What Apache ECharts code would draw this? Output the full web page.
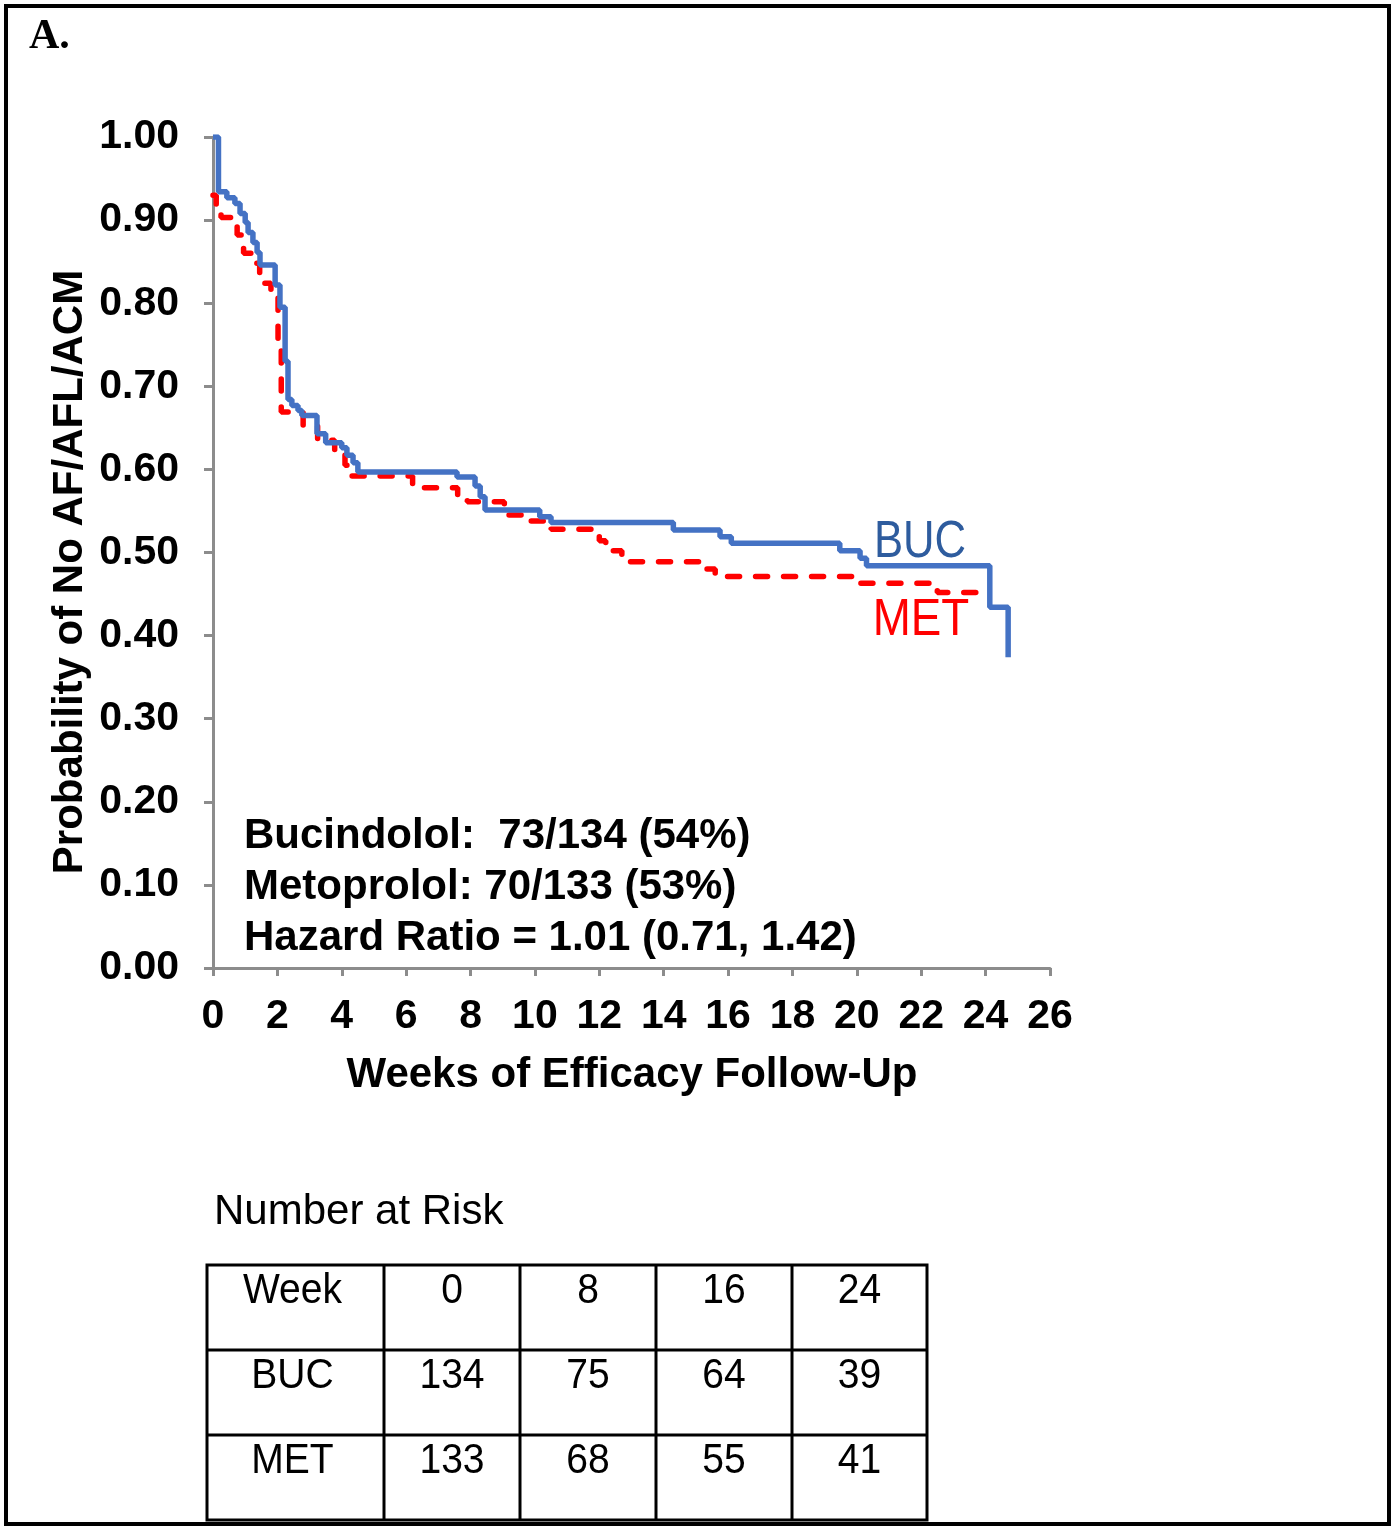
<!DOCTYPE html>
<html>
<head>
<meta charset="utf-8">
<script src="https://cdn.jsdelivr.net/npm/echarts@6/dist/echarts.min.js"></script>
<style>
html,body{margin:0;padding:0;background:#fff;}
#chart{width:1395px;height:1531px;}
</style>
</head>
<body>
<div id="chart"></div>
<script>
// ---- Data ----
const weeksBUC = [0, 0.17, 0.43, 0.68, 0.84, 1.0, 1.09, 1.24, 1.37, 1.46, 1.93, 2.08, 2.24, 2.33, 2.45, 2.64, 2.76, 3.23, 3.5, 4.0, 4.16, 4.35, 4.5, 7.58, 8.14, 8.3, 8.45, 10.15, 10.5, 14.3, 15.75, 16.1, 19.47, 20.1, 20.3, 24.13, 24.7];
const survBUC  = [1.00, 0.934, 0.927, 0.920, 0.908, 0.897, 0.885, 0.873, 0.861, 0.846, 0.822, 0.795, 0.730, 0.684, 0.677, 0.671, 0.665, 0.643, 0.632, 0.626, 0.617, 0.608, 0.597, 0.591, 0.580, 0.567, 0.551, 0.543, 0.536, 0.527, 0.519, 0.511, 0.502, 0.493, 0.484, 0.434, 0.374];

const weeksMET = [0, 0.1, 0.25, 0.6, 0.75, 0.88, 0.95, 1.22, 1.45, 1.6, 1.8, 2.02, 2.12, 2.8, 3.25, 3.78, 4.1, 4.3, 6.2, 7.6, 7.9, 9.05, 9.85, 10.5, 12.0, 12.2, 12.7, 15.15, 15.6, 20.1, 22.5, 24.05];
const survMET  = [0.930, 0.915, 0.903, 0.893, 0.882, 0.870, 0.860, 0.848, 0.836, 0.824, 0.812, 0.745, 0.669, 0.653, 0.635, 0.621, 0.605, 0.592, 0.578, 0.569, 0.561, 0.545, 0.538, 0.528, 0.514, 0.502, 0.489, 0.480, 0.471, 0.463, 0.452, 0.452];

const yTickLabels = ['0.00','0.10','0.20','0.30','0.40','0.50','0.60','0.70','0.80','0.90','1.00'];
const xTickLabels = ['0','2','4','6','8','10','12','14','16','18','20','22','24','26'];

const statLines = ['Bucindolol:  73/134 (54%)', 'Metoprolol: 70/133 (53%)', 'Hazard Ratio = 1.01 (0.71, 1.42)'];

const riskHeader = ['Week', '0', '8', '16', '24'];
const riskBUC = ['BUC', '134', '75', '64', '39'];
const riskMET = ['MET', '133', '68', '55', '41'];

// ---- Build ----
const bucData = weeksBUC.map((w, i) => [w, survBUC[i]]);
const metData = weeksMET.map((w, i) => [w, survMET[i]]);

const SANS = '"Liberation Sans", Arial, sans-serif';
const BOLD = 'bold 42px ' + SANS;
const AXIS_GREY = '#8c8c8c';

const graphics = [];
// outer frame
graphics.push({type:'rect', shape:{x:6, y:6, width:1383, height:1518}, style:{fill:'none', stroke:'#000', lineWidth:4}, z:10});
// panel label
graphics.push({type:'text', x:29, y:16, style:{text:'A.', font:'bold 42px "Liberation Serif", "Times New Roman", serif', fill:'#000'}});
// y-axis title
graphics.push({type:'text', x:70, y:572, rotation:Math.PI/2, style:{text:'Probability of No AF/AFL/ACM', font:BOLD, fill:'#000', align:'center', verticalAlign:'middle'}});
// x-axis title
graphics.push({type:'text', x:632, y:1075, style:{text:'Weeks of Efficacy Follow-Up', font:BOLD, fill:'#000', align:'center', verticalAlign:'middle'}});
// stats
statLines.forEach((t, i) => {
  graphics.push({type:'text', x:244, y:836 + i*51, style:{text:t, font:BOLD, fill:'#000', align:'left', verticalAlign:'middle'}});
});
// series labels
graphics.push({type:'text', x:920, y:543, scaleX:0.84, style:{text:'BUC', font:'52px ' + SANS, fill:'#2E5C9E', align:'center', verticalAlign:'middle'}});
graphics.push({type:'text', x:921, y:621, scaleX:0.88, style:{text:'MET', font:'52px ' + SANS, fill:'#FF0000', align:'center', verticalAlign:'middle'}});
// Number at Risk
graphics.push({type:'text', x:214, y:1212, style:{text:'Number at Risk', font:'42px ' + SANS, fill:'#000', align:'left', verticalAlign:'middle'}});
// table
const colX = [207, 384, 520, 656, 792, 927];
const rowY = [1265, 1350, 1435, 1520];
graphics.push({type:'rect', shape:{x:colX[0], y:rowY[0], width:colX[5]-colX[0], height:rowY[3]-rowY[0]}, style:{fill:'none', stroke:'#000', lineWidth:3}});
for (let c = 1; c < 5; c++) {
  graphics.push({type:'line', shape:{x1:colX[c], y1:rowY[0], x2:colX[c], y2:rowY[3]}, style:{stroke:'#000', lineWidth:3}});
}
for (let r = 1; r < 3; r++) {
  graphics.push({type:'line', shape:{x1:colX[0], y1:rowY[r], x2:colX[5], y2:rowY[r]}, style:{stroke:'#000', lineWidth:3}});
}
[riskHeader, riskBUC, riskMET].forEach((row, r) => {
  row.forEach((t, c) => {
    graphics.push({type:'text', x:(colX[c]+colX[c+1])/2 + (c===0?-3:0), y:rowY[r] + 26, scaleX:0.93,
      style:{text:t, font:'42px ' + SANS, fill:'#000', align:'center', verticalAlign:'middle'}});
  });
});

const chart = echarts.init(document.getElementById('chart'), null, {renderer:'canvas'});
chart.setOption({
  backgroundColor:'#fff',
  animation:false,
  grid:{left:213, top:137, width:837, height:831, containLabel:false},
  xAxis:{
    type:'value', min:0, max:26, interval:2,
    axisLine:{show:true, onZero:false, lineStyle:{color:AXIS_GREY, width:3}},
    axisTick:{show:true, length:8, lineStyle:{color:AXIS_GREY, width:3}},
    splitLine:{show:false},
    axisLabel:{margin:28, color:'#000', fontSize:41, fontWeight:'bold', fontFamily:SANS,
      formatter:(v) => xTickLabels[Math.round(v/2)] ?? ''}
  },
  yAxis:{
    type:'value', min:0, max:1, interval:0.1,
    axisLine:{show:true, onZero:false, lineStyle:{color:AXIS_GREY, width:3}},
    axisTick:{show:true, length:9, lineStyle:{color:AXIS_GREY, width:3}},
    splitLine:{show:false},
    axisLabel:{margin:34, color:'#000', fontSize:41, fontWeight:'bold', fontFamily:SANS,
      formatter:(v) => yTickLabels[Math.round(v*10)] ?? ''}
  },
  series:[
    {name:'MET', type:'line', step:'end', data:metData, showSymbol:false, z:3,
      lineStyle:{color:'#FF0000', width:5.5, type:[12,16], cap:'round'}},
    {name:'BUC', type:'line', step:'end', data:bucData, showSymbol:false, z:4,
      lineStyle:{color:'#4472C4', width:5.5}}
  ],
  graphic:graphics
});
</script>
</body>
</html>
